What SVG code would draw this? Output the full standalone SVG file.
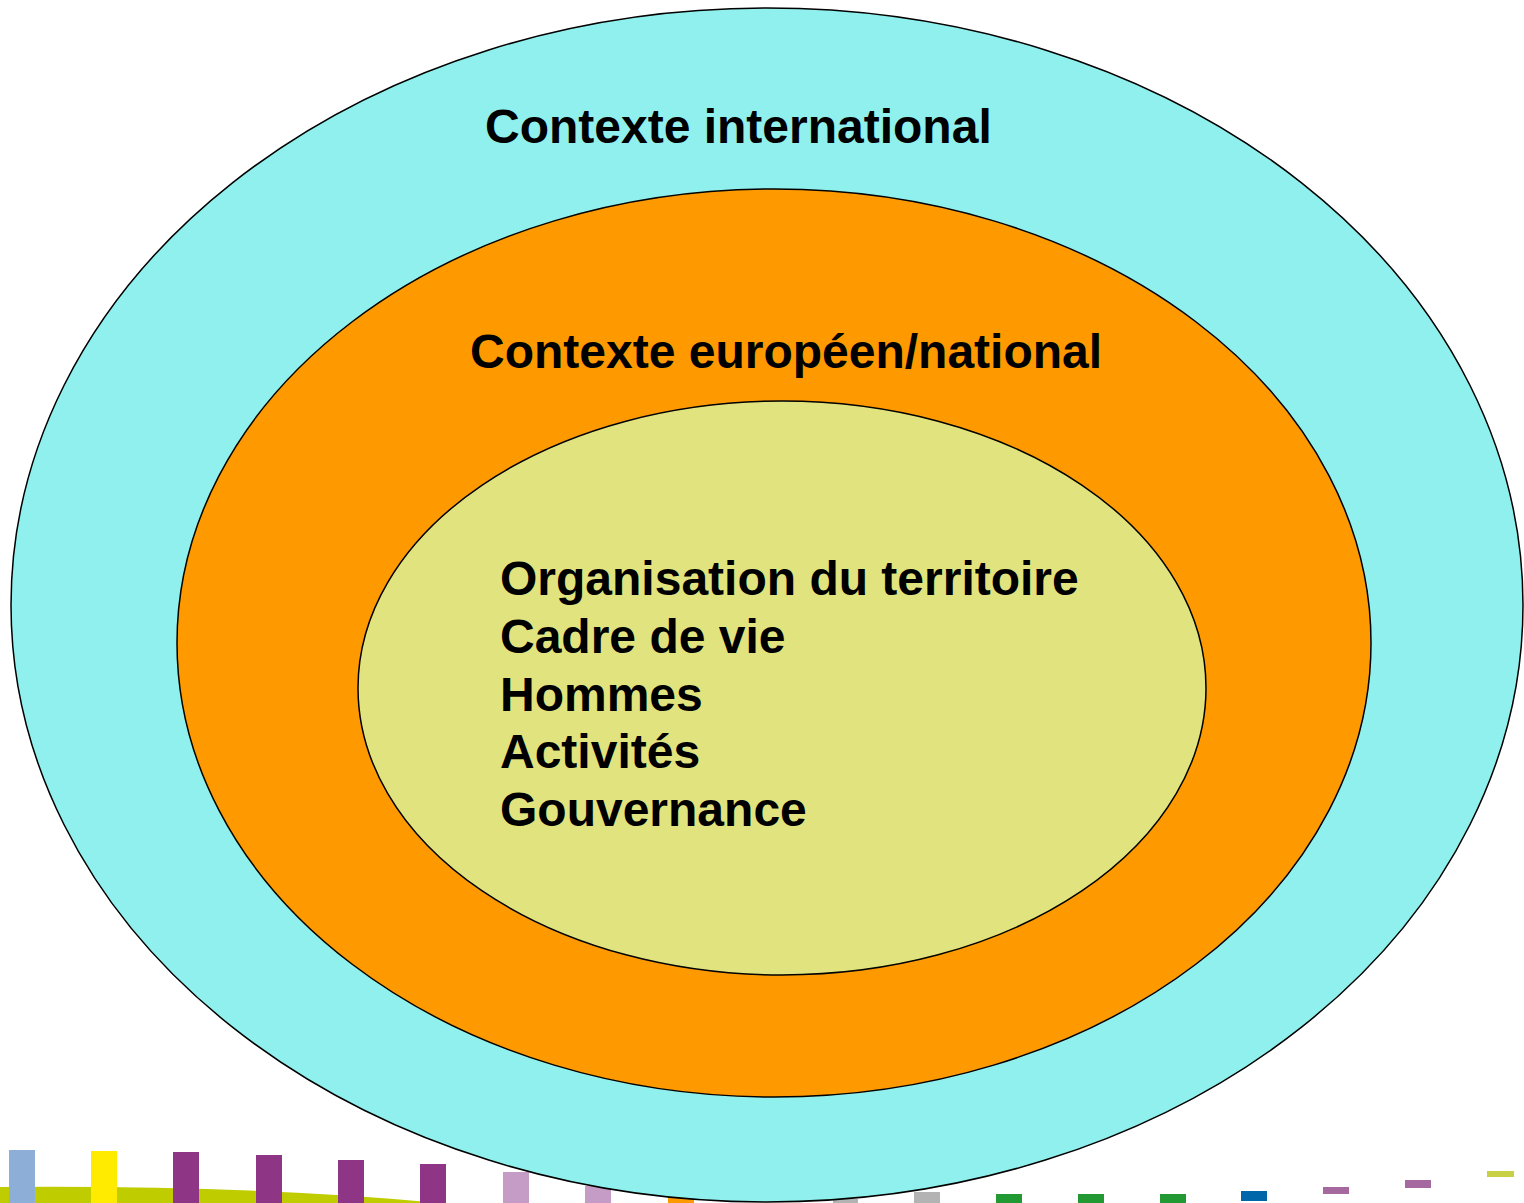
<svg xmlns="http://www.w3.org/2000/svg" width="1524" height="1203" viewBox="0 0 1524 1203">
<style>
.lbl{font-family:"Liberation Sans",Arial,sans-serif;font-weight:bold;font-size:48px;fill:#000}
.ring{stroke:#000;stroke-width:1.5}
</style>
<rect width="1524" height="1203" fill="#fff"/>
<g id="decor">
<path d="M0,1187 Q250,1185 440,1203 L0,1203 Z" fill="#bfcc00"/>
<rect x="9" y="1150" width="26" height="53" fill="#8daed6"/>
<rect x="91" y="1151" width="26" height="52" fill="#ffeb00"/>
<rect x="173" y="1152" width="26" height="51" fill="#8e3585"/>
<rect x="256" y="1155" width="26" height="48" fill="#8e3585"/>
<rect x="338" y="1160" width="26" height="43" fill="#8e3585"/>
<rect x="420" y="1164" width="26" height="39" fill="#8e3585"/>
<rect x="503" y="1172" width="26" height="31" fill="#c59cc6"/>
<rect x="585" y="1186" width="26" height="17" fill="#c59cc6"/>
<rect x="668" y="1197" width="26" height="6" fill="#ff9900"/>
<rect x="833" y="1199" width="25" height="4" fill="#b3b3b3"/>
<rect x="914" y="1192" width="26" height="11" fill="#b3b3b3"/>
<rect x="996" y="1194" width="26" height="9" fill="#229933"/>
<rect x="1078" y="1194" width="26" height="9" fill="#229933"/>
<rect x="1160" y="1194" width="26" height="9" fill="#229933"/>
<rect x="1241" y="1191" width="26" height="10" fill="#0066aa"/>
<rect x="1323" y="1187" width="26" height="7" fill="#a5699f"/>
<rect x="1405" y="1180" width="26" height="8" fill="#a5699f"/>
<rect x="1487" y="1171" width="27" height="6" fill="#c8d046"/>
</g>
<g id="international">
<ellipse class="ring" cx="767" cy="605" rx="756" ry="597" fill="#90f0ee"/>
<text class="lbl" x="485" y="143">Contexte international</text>
</g>
<g id="europeen">
<ellipse class="ring" cx="774" cy="643" rx="597" ry="454" fill="#fe9900"/>
<text class="lbl" x="470" y="368">Contexte européen/national</text>
</g>
<g id="local">
<ellipse class="ring" cx="782" cy="688" rx="424" ry="287" fill="#e1e47e"/>
<text class="lbl" x="500" y="595">Organisation du territoire</text>
<text class="lbl" x="500" y="653">Cadre de vie</text>
<text class="lbl" x="500" y="711">Hommes</text>
<text class="lbl" x="500" y="768">Activités</text>
<text class="lbl" x="500" y="826">Gouvernance</text>
</g>
<g id="connectors"></g>
</svg>
